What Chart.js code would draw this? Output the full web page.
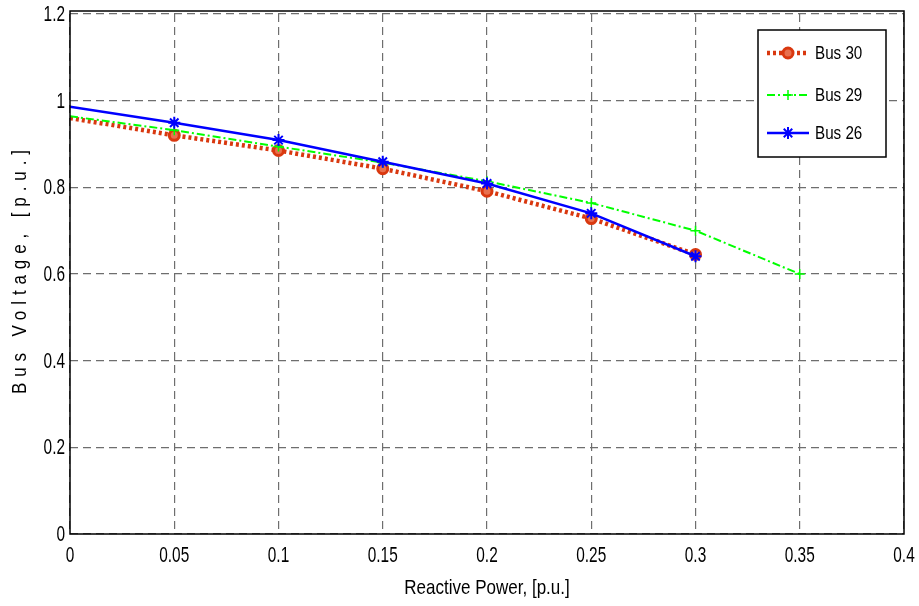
<!DOCTYPE html>
<html>
<head>
<meta charset="utf-8">
<script src="https://cdn.jsdelivr.net/npm/chart.js@4.4.0/dist/chart.umd.min.js"></script>
<style>
  body { margin: 0; background: #fff; }
  #wrap { width: 919px; height: 606px; }
</style>
</head>
<body>
<div id="wrap"><canvas id="voltChart" width="919" height="606"></canvas></div>
<script>
// reactive power steps, p.u.
const qSteps = [0, 0.05, 0.1, 0.15, 0.2, 0.25, 0.3, 0.35];

// bus voltages, p.u.
const bus30 = [0.96, 0.92, 0.885, 0.843, 0.791, 0.728, 0.645];
const bus29 = [0.964, 0.932, 0.894, 0.857, 0.814, 0.764, 0.70, 0.60];
const bus26 = [0.986, 0.949, 0.909, 0.859, 0.809, 0.740, 0.641];

const xTicks = [0, 0.05, 0.1, 0.15, 0.2, 0.25, 0.3, 0.35, 0.4];
const yTicks = [0, 0.2, 0.4, 0.6, 0.8, 1, 1.2];

const FONT = "'Liberation Sans', Arial, sans-serif";

function toPoints(vals) {
    return vals.map((v, i) => ({ x: qSteps[i], y: v }));
}

// no marker on the first sample (sits on the axis)
function markerSize(r) {
    return c => (c.dataIndex === 0 ? 0 : r);
}

// condensed text: squeeze horizontally around the anchor point
function narrowText(ctx, text, x, y, size, sx, align) {
    ctx.save();
    ctx.translate(x, y);
    ctx.scale(sx, 1);
    ctx.font = size + 'px ' + FONT;
    ctx.fillStyle = '#000';
    ctx.textAlign = align;
    ctx.textBaseline = 'middle';
    ctx.fillText(text, 0, 0);
    ctx.restore();
}

// box, tick labels, axis titles and legend
const framePlugin = {
    id: 'frame',
    afterDraw(chart) {
        const { ctx, chartArea: a } = chart;
        const xs = chart.scales.x, ys = chart.scales.y;
        ctx.save();
        ctx.strokeStyle = '#000';
        ctx.lineWidth = 1.5;
        ctx.setLineDash([]);
        ctx.strokeRect(a.left, a.top - 3, a.right - a.left, a.bottom - a.top + 3);
        ctx.restore();

        xs.ticks.forEach(t => {
            narrowText(ctx, String(+t.value.toFixed(2)), xs.getPixelForValue(t.value), a.bottom + 22, 22, 0.7, 'center');
        });
        ys.ticks.forEach(t => {
            narrowText(ctx, String(+t.value.toFixed(1)), a.left - 5, ys.getPixelForValue(t.value) + 1, 22, 0.7, 'right');
        });
        narrowText(ctx, 'Reactive Power, [p.u.]', (a.left + a.right) / 2, 588, 21, 0.81, 'center');

        // y title, letter spaced
        const yTitle = 'Bus Voltage, [p.u.]';
        const sx = 0.85, span = 244;
        ctx.save();
        ctx.font = '20px ' + FONT;
        const w0 = ctx.measureText(yTitle).width;
        const ls = (span / sx - w0) / (yTitle.length - 1);
        ctx.translate(20, 272);
        ctx.rotate(-Math.PI / 2);
        ctx.scale(sx, 1);
        ctx.letterSpacing = ls.toFixed(2) + 'px';
        ctx.fillStyle = '#000';
        ctx.textAlign = 'left';
        ctx.textBaseline = 'middle';
        ctx.fillText(yTitle, -(span / sx) / 2, 0);
        ctx.restore();

        // legend
        const lx = 758, ly = 30, lw = 128, lh = 127;
        ctx.save();
        ctx.fillStyle = '#fff';
        ctx.fillRect(lx, ly, lw, lh);
        ctx.strokeStyle = '#000';
        ctx.lineWidth = 1.5;
        ctx.strokeRect(lx, ly, lw, lh);
        const rows = [53, 95, 133];
        chart.data.datasets.forEach((ds, i) => {
            const y = rows[i];
            ctx.save();
            ctx.strokeStyle = ds.borderColor;
            ctx.lineWidth = ds.borderWidth;
            ctx.setLineDash(ds.borderDash || []);
            ctx.beginPath();
            ctx.moveTo(767, y);
            ctx.lineTo(809, y);
            ctx.stroke();
            ctx.setLineDash([]);
            ctx.strokeStyle = ds.pointBorderColor;
            ctx.fillStyle = ds.pointBackgroundColor;
            ctx.lineWidth = ds.pointBorderWidth;
            Chart.helpers.drawPoint(ctx, {
                pointStyle: ds.pointStyle,
                radius: ds.legendRadius,
                borderWidth: ds.pointBorderWidth,
                rotation: 0
            }, 788, y);
            ctx.restore();
            narrowText(ctx, ds.label, 815, y + 1, 19, 0.8, 'left');
        });
        ctx.restore();
    }
};

new Chart(document.getElementById('voltChart'), {
    type: 'line',
    data: {
        datasets: [
            {
                label: 'Bus 30',
                data: toPoints(bus30),
                borderColor: '#D9380F',
                borderWidth: 4.5,
                borderDash: [3, 3],
                pointStyle: 'circle',
                pointRadius: markerSize(5),
                legendRadius: 5,
                pointBorderWidth: 3,
                pointBorderColor: '#D9380F',
                pointBackgroundColor: '#e8704e',
                clip: 0,
                order: 3
            },
            {
                label: 'Bus 29',
                data: toPoints(bus29),
                borderColor: '#00FF00',
                borderWidth: 2,
                borderDash: [8, 3, 2, 3],
                pointStyle: 'cross',
                pointRadius: markerSize(5),
                legendRadius: 5,
                pointBorderWidth: 1.5,
                pointBorderColor: '#00FF00',
                pointBackgroundColor: '#00FF00',
                clip: 0,
                order: 2
            },
            {
                label: 'Bus 26',
                data: toPoints(bus26),
                borderColor: '#0000FF',
                borderWidth: 2.5,
                pointStyle: 'star',
                pointRadius: markerSize(6),
                legendRadius: 6,
                pointBorderWidth: 2,
                pointBorderColor: '#0000FF',
                pointBackgroundColor: '#0000FF',
                clip: 0,
                order: 1
            }
        ]
    },
    options: {
        responsive: false,
        animation: false,
        tension: 0,
        layout: { padding: { top: 14, right: 15, left: 0, bottom: 0 } },
        plugins: { legend: { display: false }, tooltip: { enabled: false } },
        scales: {
            x: {
                type: 'linear',
                min: 0,
                max: 0.4,
                afterBuildTicks: s => { s.ticks = xTicks.map(v => ({ value: v })); },
                afterFit: s => { s.height = 72; },
                grid: { color: '#6e6e6e', lineWidth: 1.2, drawTicks: false },
                border: { display: false, dash: [8, 5] },
                ticks: { display: false }
            },
            y: {
                type: 'linear',
                min: 0,
                max: 1.2,
                afterBuildTicks: s => { s.ticks = yTicks.map(v => ({ value: v })); },
                afterFit: s => { s.width = 70; },
                grid: { color: '#6e6e6e', lineWidth: 1.2, drawTicks: false },
                border: { display: false, dash: [8, 5] },
                ticks: { display: false }
            }
        }
    },
    plugins: [framePlugin]
});
</script>
</body>
</html>
